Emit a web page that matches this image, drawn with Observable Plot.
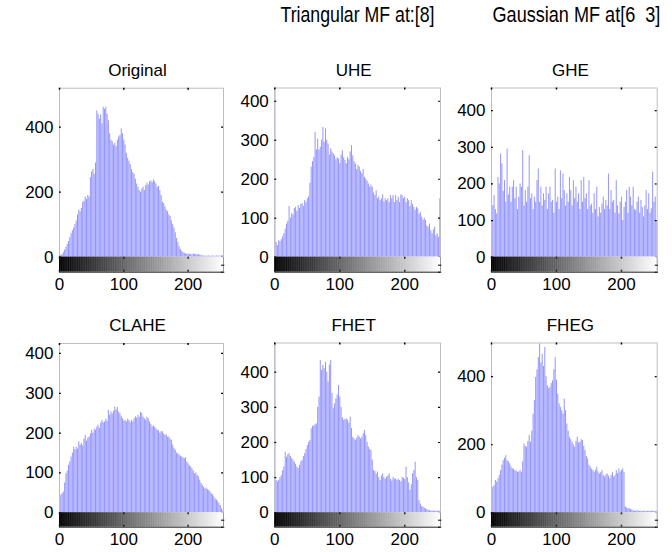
<!DOCTYPE html>
<html><head><meta charset="utf-8">
<script src="https://cdn.jsdelivr.net/npm/d3@7"></script>
<script src="https://cdn.jsdelivr.net/npm/@observablehq/plot@0.6"></script>
<style>
html,body{margin:0;padding:0;background:#fff;}
#fig{position:relative;width:672px;height:552px;overflow:hidden;}
#fig svg{position:absolute;left:0;top:0;}
</style></head><body><div id="fig"></div>
<script>
// gray levels sampled every 2 bins: 0,2,...,254
const bins = d3.range(0, 256, 2);

const original = [4,6,8,14,22,30,40,48,60,72, 82,90,100,112,130,145,140,150,168,172,
185,178,190,185,245,262,270,255,290,450, 440,425,438,410,462,455,462,440,420,380,
360,355,345,350,340,360,370,375,395,380, 360,345,320,305,295,285,270,260,255,240,
225,215,205,200,210,215,205,220,228,222, 232,235,230,238,232,225,215,218,205,190,
170,165,155,145,140,130,125,112,100,90, 75,58,45,32,24,18,14,12,10,9,
10,8,9,7,10,8,9,7,8,6, 5,4,3,4,3,3,4,3,3,4, 3,3,4,3,4,3,4,5];

const uhe = [900,38,30,42,40,45,52,60,72,85, 92,130,100,112,108,125,128,118,132,125,
135,137,130,145,140,150,155,190,231,245, 256,320,275,303,275,282,300,333,295,329,
300,290,262,278,270,265,260,250,255,252, 240,262,273,255,248,240,256,250,270,286,
260,245,239,225,235,231,220,214,225,205, 200,195,188,180,185,179,165,158,170,150,
154,145,150,160,142,150,145,150,140,158, 150,158,140,158,145,154,140,160,158,150,
154,140,150,145,130,145,135,128,120,128, 124,110,115,103,95,100,94,80,77,85,
68,60,70,77,55,60,51,150];

const ghe = [900,141,168,130,118,218,200,282,255,180, 209,150,295,170,191,150,191,209,160,191,
130,164,200,191,291,140,182,150,191,277, 160,173,130,164,150,209,241,150,191,140,
173,155,191,130,173,191,150,155,120,241, 150,164,130,236,160,227,182,140,173,150,
218,182,140,209,160,191,150,173,130,209, 150,218,160,173,130,209,140,145,120,173,
130,191,110,136,120,145,164,130,155,140, 227,130,182,150,155,120,209,140,118,150,
164,100,136,150,182,120,191,164,140,191, 130,127,150,164,120,155,136,110,140,182,
130,173,120,132,232,150,164,100];

const clahe = [200,44,48,52,75,98,105,119,128,140, 150,165,158,165,160,178,170,174,168,185,
194,180,188,190,198,207,200,210,207,215, 220,212,225,232,226,228,235,230,257,245,
253,248,255,266,258,264,253,248,241,236, 230,232,228,235,232,226,232,228,236,241,
238,245,240,252,249,240,236,232,240,236, 228,222,215,218,215,210,207,206,200,204,
203,198,194,196,190,190,185,182,170,162, 157,150,148,145,142,140,138,136,138,128,
123,118,115,111,105,98,100,94,90,82, 74,69,64,60,62,58,56,52,48,45,
40,35,32,28,23,18,10,5];

const fhet = [900,92,88,92,100,106,120,130,172,158, 165,168,160,154,150,144,138,130,126,135,
145,149,160,168,180,191,200,206,239,245, 248,250,253,300,329,433,405,419,410,428,
400,372,420,433,340,296,310,324,335,362, 329,300,270,263,265,267,263,255,272,240,
215,210,206,212,220,215,210,215,225,234, 220,200,187,180,177,150,120,118,110,116,
100,92,105,111,100,95,101,105,111,95, 90,101,95,97,92,96,92,88,101,98,
95,130,100,85,64,80,111,120,144,100, 92,35,25,18,16,13,11,9,7,6,
5,5,4,5,4,5,4,5];

const fheg = [900,75,80,95,90,100,110,124,140,153, 160,168,153,150,144,135,129,128,124,122,
119,120,124,119,150,202,195,193,210,227, 207,240,290,330,398,420,456,496,440,466,
430,486,400,373,365,369,380,388,420,456, 390,349,320,310,300,290,334,300,261,240,
222,215,207,200,193,210,222,205,207,215, 212,195,183,165,158,140,134,128,124,119,
125,134,120,114,118,124,110,105,112,114, 108,100,110,119,105,109,124,115,129,120,
124,129,118,17,14,12,12,10,8,6, 5,5,6,5,4,5,4,5,4,5,
4,5,4,5,4,5,4,5];

const series = [original, uhe, ghe, clahe, fhet, fheg];
const titles = ["Original", "UHE", "GHE", "CLAHE", "FHET", "FHEG"];
const yMax = [520, 434, 462, 425, 483, 499];
const yTicks = [[0,200,400],[0,100,200,300,400],[0,100,200,300,400],
                [0,100,200,300,400],[0,100,200,300,400],[0,200,400]];
const xTicks = [0, 100, 200];
const headers = ["Triangular MF at:[8]", "Gaussian MF at[6  3]"];

// layout (pixels)
const frames = [
  {l:59,  r:223,   t:87.7,  y0:256.7, cb:271.7, ty:70},
  {l:274.3,r:440,  t:87.5,  y0:256.7, cb:271.7, ty:70},
  {l:491, r:656.7, t:87.5,  y0:256.7, cb:271.7, ty:70},
  {l:59,  r:223,   t:343,   y0:512.3, cb:526.7, ty:325.5},
  {l:274.3,r:440,  t:342.5, y0:512.3, cb:526.7, ty:325.5},
  {l:491, r:656.7, t:342.5, y0:512.3, cb:526.7, ty:325.5}
];
const headerPos = [{x:280.5, w:154}, {x:492.5, w:168}];
const FONT = '"Liberation Sans", Arial, Helvetica, sans-serif';
const FS = 17;

const fig = document.getElementById("fig");

series.forEach((vals, i) => {
  const f = frames[i];
  const ymax = yMax[i];
  const ppu = (f.y0 - f.t) / ymax;           // px per unit
  const c = (f.cb - f.y0) / ppu;              // colorbar depth in units
  const k = 2 / ppu;                          // 2px in y units
  const data = bins.map((b, j) => ({bin: b, count: vals[j]}));
  const grad = d3.range(0, 255);
  const svg = Plot.plot({
    width: 672, height: 552,
    marginLeft: f.l, marginRight: 672 - f.r, marginTop: f.t, marginBottom: 552 - f.cb,
    x: {domain: [0, 255]},
    y: {domain: [-c, ymax]},
    style: {fontFamily: FONT, fontSize: FS + "px", background: "transparent", color: "#000"},
    marks: [
      Plot.ruleX(data, {x: "bin", y1: 0, y2: "count", stroke: "#0000ff", strokeOpacity: 0.42, strokeWidth: 1, clip: true}),
      // histogram box
      Plot.ruleY([ymax], {stroke: "#bdbdbd"}),
      Plot.ruleX([0, 255], {y1: 0, y2: ymax, stroke: "#bdbdbd"}),
      Plot.ruleY(yTicks[i], {x1: 0, x2: 3, stroke: "#000", strokeWidth: 1.2}),
      Plot.ruleY(yTicks[i], {x1: 252, x2: 255, stroke: "#000", strokeWidth: 1.2}),
      Plot.ruleX(xTicks, {y1: ymax - k, y2: ymax, stroke: "#000", strokeWidth: 1.5}),
      // gray colorbar
      Plot.rect(grad, {x1: d => d, x2: d => d + 1.6, y1: -c, y2: 0, fill: d => d3.rgb(d, d, d).formatHex(), clip: true}),
      Plot.ruleY([-c], {stroke: "#222"}),
      Plot.ruleX([0], {y1: -c, y2: 0, stroke: "#000"}),
      Plot.ruleX([255], {y1: -c, y2: 0, stroke: "#999"}),
      Plot.ruleX(xTicks, {y1: -k, y2: 0, stroke: "#222", strokeWidth: 1.5}),
      Plot.ruleX(xTicks, {y1: -c, y2: -c + k, stroke: "#222", strokeWidth: 1.5}),
      Plot.ruleY([-c + k * 3.5, -c], {x1: 252, x2: 257, stroke: "#000"}),
      // axes
      Plot.axisY(yTicks[i], {anchor: "left", tickSize: 0, tickPadding: 6, label: null, fontSize: FS}),
      Plot.axisX(xTicks, {anchor: "bottom", tickSize: 0, tickPadding: 6, label: null, fontSize: FS}),
      // title
      Plot.text([titles[i]], {frameAnchor: "top", dy: f.ty - f.t, dx: -4, fontSize: FS, lineAnchor: "middle"})
    ]
  });
  fig.appendChild(svg);
});

// figure headers (condensed sans, scaled horizontally to the reference width)
const ns = "http://www.w3.org/2000/svg";
const hs = document.createElementNS(ns, "svg");
hs.setAttribute("width", 672); hs.setAttribute("height", 552);
fig.appendChild(hs);
headers.forEach((h, i) => {
  const g = document.createElementNS(ns, "g");
  const t = document.createElementNS(ns, "text");
  t.setAttribute("x", 0);
  t.setAttribute("y", 0);
  t.setAttribute("font-size", 22.5);
  t.setAttribute("font-family", '"Liberation Sans Narrow", "Arial Narrow", "Liberation Sans", sans-serif');
  t.setAttribute("fill", "#000");
  t.style.whiteSpace = "pre";
  t.textContent = h;
  g.appendChild(t);
  hs.appendChild(g);
  const natural = t.getComputedTextLength() || headerPos[i].w;
  const s = headerPos[i].w / natural;
  g.setAttribute("transform", `translate(${headerPos[i].x},21.5) scale(${s},1)`);
});
</script></body></html>
